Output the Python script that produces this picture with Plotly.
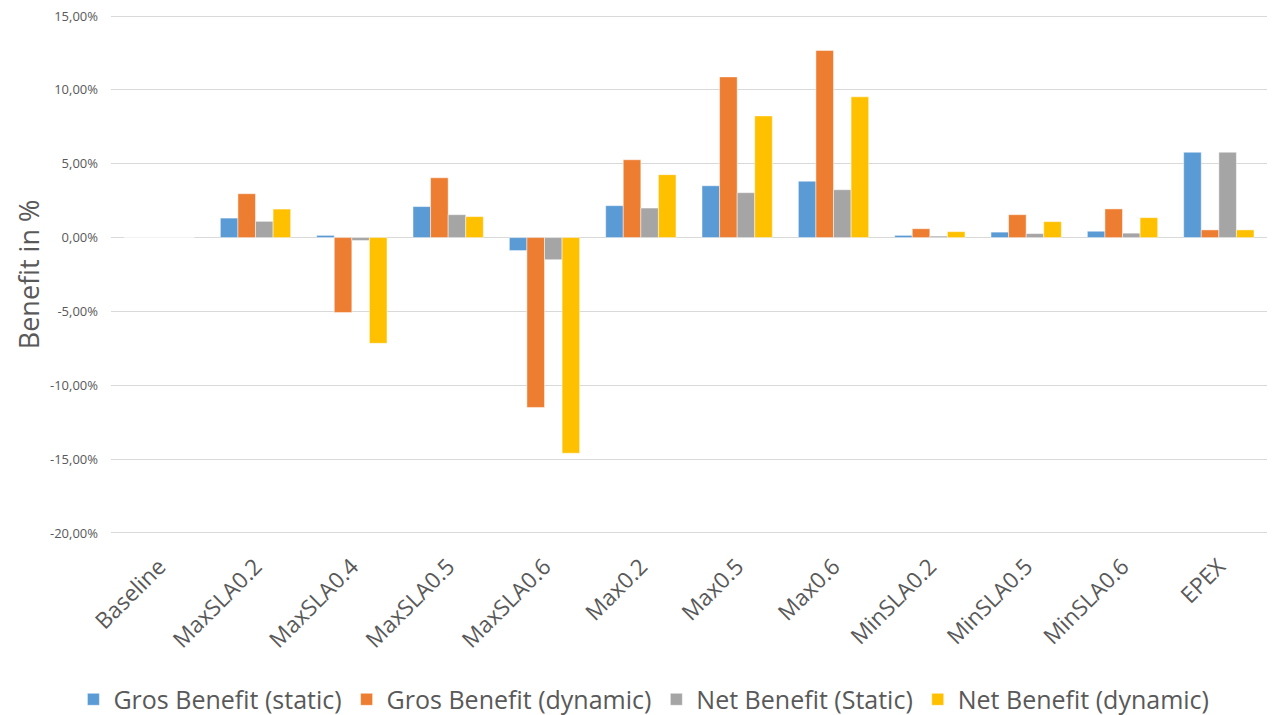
import plotly.graph_objects as go

# -------------------------
# DATA
# -------------------------
scenarios = ["Baseline", "MaxSLA0.2", "MaxSLA0.4", "MaxSLA0.5", "MaxSLA0.6", "Max0.2",
             "Max0.5", "Max0.6", "MinSLA0.2", "MinSLA0.5", "MinSLA0.6", "EPEX"]

gros_static = [0.0, 1.32, 0.15, 2.10, -0.88, 2.16, 3.51, 3.82, 0.15, 0.37, 0.43, 5.78]
gros_dynamic = [0.0, 2.97, -5.07, 4.05, -11.50, 5.27, 10.88, 12.67, 0.60, 1.55, 1.94, 0.52]
net_static = [0.0, 1.10, -0.20, 1.55, -1.50, 2.00, 3.04, 3.24, 0.10, 0.27, 0.30, 5.78]
net_dynamic = [0.0, 1.93, -7.16, 1.42, -14.60, 4.26, 8.24, 9.53, 0.40, 1.08, 1.35, 0.52]

tick_vals = [15, 10, 5, 0, -5, -10, -15, -20]
tick_text = ["15,00%", "10,00%", "5,00%", "0,00%", "-5,00%", "-10,00%", "-15,00%", "-20,00%"]

series = [
    ("Gros Benefit (static)", gros_static, "#5B9BD5"),
    ("Gros Benefit (dynamic)", gros_dynamic, "#ED7D31"),
    ("Net Benefit (Static)", net_static, "#A5A5A5"),
    ("Net Benefit (dynamic)", net_dynamic, "#FFC000"),
]

# -------------------------
# FIGURE
# -------------------------
fig = go.Figure()
for name, vals, color in series:
    fig.add_trace(go.Bar(
        x=scenarios,
        y=vals,
        name=name,
        marker=dict(color=color, line=dict(color="rgba(255,255,255,0.6)", width=0.8)),
    ))

# the page body adds an 8px margin, so the figure is 8px smaller than the window
fig.update_layout(
    width=1267,
    height=707,
    template="plotly_white",
    plot_bgcolor="white",
    paper_bgcolor="white",
    barmode="group",
    bargap=0.27,
    bargroupgap=0,
    font=dict(family="Open Sans, sans-serif", color="#595959"),
    margin=dict(l=103, r=8, t=7, b=181, autoexpand=False),
    legend=dict(
        orientation="h",
        x=0.461,
        xanchor="center",
        y=-0.319,
        yanchor="middle",
        font=dict(size=25, color="#595959"),
        itemwidth=30,
        traceorder="normal",
    ),
)

fig.update_yaxes(
    range=[-20.07, 15.07],
    tickvals=tick_vals,
    ticktext=tick_text,
    tickfont=dict(size=13, color="#595959"),
    gridcolor="#D9D9D9",
    gridwidth=1,
    zeroline=True,
    zerolinecolor="#D9D9D9",
    zerolinewidth=1,
    showline=False,
    ticks="",
    automargin=False,
    ticklabelstandoff=12,
    ticklabeloverflow="allow",
    title=dict(text="Benefit in %", font=dict(size=27, color="#595959"), standoff=2),
)

fig.update_xaxes(
    tickangle=-45,
    tickfont=dict(size=22.5, color="#595959"),
    showgrid=False,
    showline=False,
    ticks="",
    automargin=False,
    ticklabelstandoff=14,
)

fig.write_html("out.html")
